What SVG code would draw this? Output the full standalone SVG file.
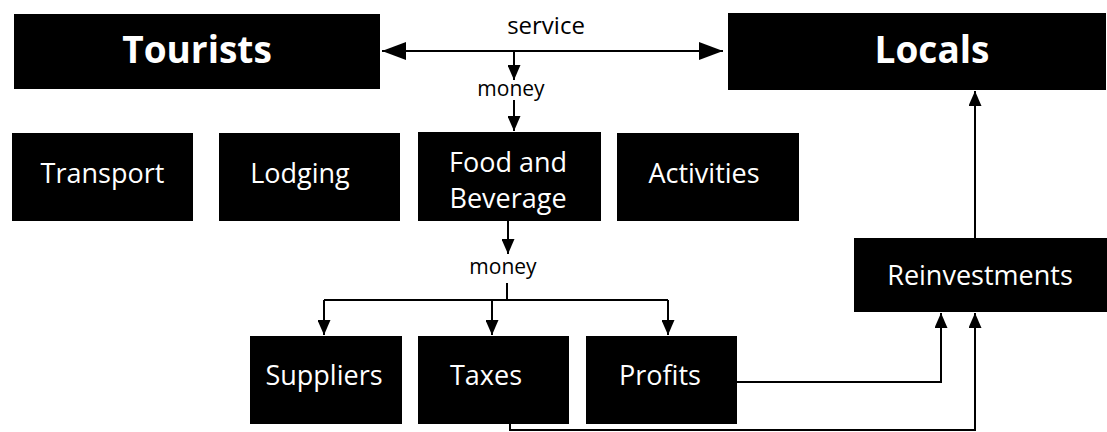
<svg xmlns="http://www.w3.org/2000/svg" width="1107" height="432" viewBox="0 0 1107 432">
  <style>
    .box { fill: #000; }
    .lbl { fill: #fff; font-family: "Open Sans", "Noto Sans", sans-serif; font-size: 27px; text-anchor: middle; }
    .big { font-size: 37px; font-weight: bold; }
    .tag { fill: #000; font-family: "Open Sans", "Noto Sans", sans-serif; text-anchor: middle; }
    .wire { fill: none; stroke: #000; stroke-width: 2; }
  </style>
  <defs>
    <marker id="head" markerUnits="userSpaceOnUse" markerWidth="15" markerHeight="13" refX="15" refY="6.5" orient="auto-start-reverse">
      <path d="M0,0 L15,6.5 L0,13 Z" fill="#000"/>
    </marker>
    <marker id="headLarge" markerUnits="userSpaceOnUse" markerWidth="24" markerHeight="18" refX="24" refY="9" orient="auto-start-reverse">
      <path d="M0,0 L24,9 L0,18 Z" fill="#000"/>
    </marker>
  </defs>

  <rect width="1107" height="432" fill="#fff"/>

  <g id="connectors">
    <!-- service exchange between tourists and locals -->
    <line class="wire" x1="382" y1="51" x2="723" y2="51" marker-start="url(#headLarge)" marker-end="url(#headLarge)"/>
    <text class="tag" x="546" y="34" font-size="24">service</text>
    <!-- money flowing to food and beverage -->
    <line class="wire" x1="514" y1="51" x2="514" y2="80" marker-end="url(#head)"/>
    <text class="tag" x="511" y="96" font-size="21">money</text>
    <line class="wire" x1="514" y1="100" x2="514" y2="131" marker-end="url(#head)"/>
    <!-- money split three ways -->
    <line class="wire" x1="508" y1="221" x2="508" y2="254" marker-end="url(#head)"/>
    <text class="tag" x="503" y="274" font-size="21">money</text>
    <polyline class="wire" points="507,283 507,300"/>
    <polyline class="wire" points="324,300 668,300"/>
    <line class="wire" x1="324" y1="300" x2="324" y2="335" marker-end="url(#head)"/>
    <line class="wire" x1="492" y1="300" x2="492" y2="335" marker-end="url(#head)"/>
    <line class="wire" x1="668" y1="300" x2="668" y2="335" marker-end="url(#head)"/>
    <!-- profits and taxes into reinvestments -->
    <polyline class="wire" points="737,382 941,382 941,313" marker-end="url(#head)"/>
    <polyline class="wire" points="510,424 510,430 975,430 975,313" marker-end="url(#head)"/>
    <!-- reinvestments back to locals -->
    <line class="wire" x1="975" y1="238" x2="975" y2="91" marker-end="url(#head)"/>
  </g>

  <g id="tourists">
    <rect class="box" x="14" y="14" width="366" height="75"/>
    <text class="lbl big" x="197" y="63">Tourists</text>
  </g>
  <g id="locals">
    <rect class="box" x="728" y="13" width="378" height="77"/>
    <text class="lbl big" x="932" y="63">Locals</text>
  </g>

  <g id="transport">
    <rect class="box" x="12" y="133" width="181" height="88"/>
    <text class="lbl" x="102.5" y="183">Transport</text>
  </g>
  <g id="lodging">
    <rect class="box" x="219" y="133" width="181" height="88"/>
    <text class="lbl" x="300" y="183">Lodging</text>
  </g>
  <g id="food-beverage">
    <rect class="box" x="418" y="132" width="183" height="89"/>
    <text class="lbl" x="508" y="172">Food and</text>
    <text class="lbl" x="508" y="208">Beverage</text>
  </g>
  <g id="activities">
    <rect class="box" x="617" y="133" width="182" height="88"/>
    <text class="lbl" x="704" y="183">Activities</text>
  </g>

  <g id="reinvestments">
    <rect class="box" x="854" y="238" width="253" height="74"/>
    <text class="lbl" x="980" y="285">Reinvestments</text>
  </g>

  <g id="suppliers">
    <rect class="box" x="250" y="336" width="152" height="88"/>
    <text class="lbl" x="324" y="385">Suppliers</text>
  </g>
  <g id="taxes">
    <rect class="box" x="418" y="336" width="151" height="88"/>
    <text class="lbl" x="486" y="385">Taxes</text>
  </g>
  <g id="profits">
    <rect class="box" x="586" y="336" width="151" height="88"/>
    <text class="lbl" x="660" y="385">Profits</text>
  </g>
</svg>
